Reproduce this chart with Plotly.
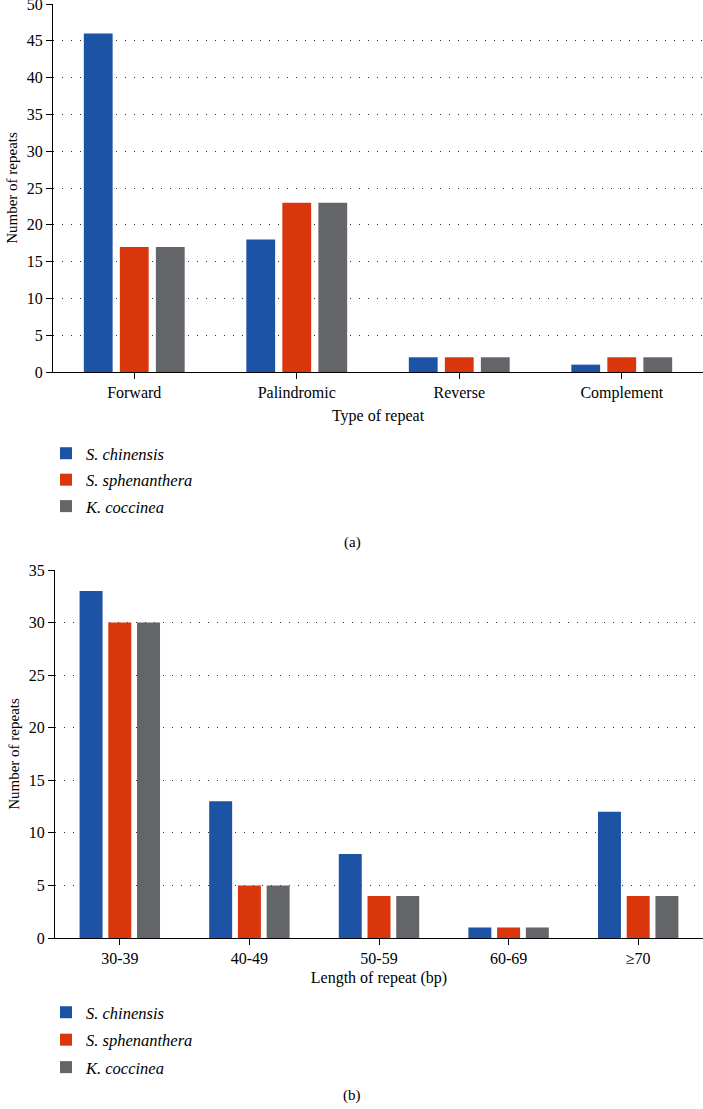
import plotly.graph_objects as go

W, H = 703, 1109

species = ["<i>S. chinensis</i>", "<i>S. sphenanthera</i>", "<i>K. coccinea</i>"]
colors = ["#1d53a5", "#d9360b", "#646569"]

types = ["Forward", "Palindromic", "Reverse", "Complement"]
type_chinensis = [46, 18, 2, 1]
type_sphenanthera = [17, 23, 2, 2]
type_coccinea = [17, 23, 2, 2]

lengths = ["30-39", "40-49", "50-59", "60-69", "≥70"]
len_chinensis = [33, 13, 8, 1, 12]
len_sphenanthera = [30, 5, 4, 1, 4]
len_coccinea = [30, 5, 4, 1, 4]

FONT = "Liberation Serif"

def fx(p):
    return p / W

def fy(p):
    return 1 - p / H

fig = go.Figure()
type_vals = [type_chinensis, type_sphenanthera, type_coccinea]
len_vals = [len_chinensis, len_sphenanthera, len_coccinea]
for i in range(3):
    fig.add_trace(go.Bar(x=types, y=type_vals[i], name=species[i],
                         marker=dict(color=colors[i], line=dict(width=0)),
                         xaxis="x", yaxis="y", legend="legend",
                         legendgroup="a%d" % i))
for i in range(3):
    fig.add_trace(go.Bar(x=lengths, y=len_vals[i], name=species[i],
                         marker=dict(color=colors[i], line=dict(width=0)),
                         xaxis="x2", yaxis="y2", legend="legend2",
                         legendgroup="b%d" % i))

axis_common = dict(showline=True, linecolor="black", linewidth=1.3,
                   ticks="outside", ticklen=6, tickwidth=1.3, tickcolor="black",
                   tickfont=dict(family=FONT, size=16, color="black"),
                   zeroline=False, automargin=False, ticklabeloverflow="allow")

grid = dict(showgrid=True, gridcolor="#333", gridwidth=1, griddash="1px,8px")

fig.update_layout(
    width=W, height=H,
    margin=dict(l=0, r=0, t=0, b=0, autoexpand=False),
    paper_bgcolor="white", plot_bgcolor="white",
    barmode="group", bargap=0.335, bargroupgap=0.2,
    font=dict(family=FONT, size=16, color="black"),
    xaxis=dict(domain=[fx(53), 1], anchor="y", showgrid=False,
               title=dict(text="Type of repeat", standoff=8,
                          font=dict(family=FONT, size=16)), **axis_common),
    yaxis=dict(domain=[fy(372), fy(4)], anchor="x", range=[0, 50], dtick=5,
               title=dict(text="Number of repeats", standoff=5,
                          font=dict(family=FONT, size=15)), **grid, **axis_common),
    xaxis2=dict(domain=[fx(55), 1], anchor="y2", showgrid=False,
                title=dict(text="Length of repeat (bp)", standoff=5,
                           font=dict(family=FONT, size=16)), **axis_common),
    yaxis2=dict(domain=[fy(938), fy(570)], anchor="x2", range=[0, 35], dtick=5,
                title=dict(text="Number of repeats", standoff=5,
                           font=dict(family=FONT, size=15)), **grid, **axis_common),
    legend=dict(x=fx(46), xanchor="left", y=fy(436), yanchor="top",
                font=dict(family=FONT, size=16.5), tracegroupgap=2,
                bgcolor="rgba(0,0,0,0)", traceorder="grouped"),
    legend2=dict(x=fx(46), xanchor="left", y=fy(995), yanchor="top",
                 font=dict(family=FONT, size=16.5), tracegroupgap=3,
                 bgcolor="rgba(0,0,0,0)", traceorder="grouped"),
    annotations=[
        dict(text="(a)", x=fx(352), y=fy(543), xref="paper", yref="paper",
             xanchor="center", yanchor="middle",
             showarrow=False, font=dict(family=FONT, size=15)),
        dict(text="(b)", x=fx(352), y=fy(1095), xref="paper", yref="paper",
             xanchor="center", yanchor="middle",
             showarrow=False, font=dict(family=FONT, size=15)),
    ],
)

fig.write_html("out.html",
               config={"displayModeBar": False},
               post_script="document.body.style.margin='0';"
                           "document.body.style.overflow='hidden';")
